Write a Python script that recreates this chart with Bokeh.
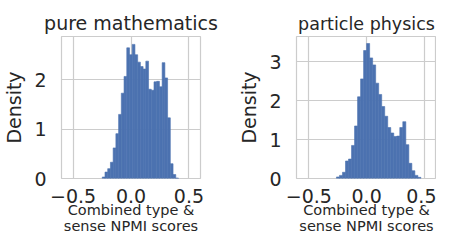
from bokeh.plotting import figure
from bokeh.layouts import row
from bokeh.embed import file_html
from bokeh.resources import INLINE
from bokeh.models import FixedTicker
import numpy as np

# ---- data ----
titles = ["pure mathematics", "particle physics"]

math_lo, math_hi = -0.248, 0.410
math_density = [0.03, 0.13, 0.20, 0.33, 0.62, 0.91, 1.30, 1.73, 2.07, 2.65,
                2.51, 2.72, 2.51, 2.36, 2.27, 2.22, 2.38, 1.81, 1.79, 1.96,
                1.97, 1.86, 2.35, 2.04, 1.23, 0.30, 0.08, 0.01]

phys_lo, phys_hi = -0.261, 0.470
phys_density = [0.04, 0.08, 0.16, 0.45, 0.50, 0.85, 1.35, 2.10, 2.56, 3.29,
                3.47, 3.10, 2.92, 2.45, 2.16, 1.85, 1.60, 1.31, 1.17, 1.08,
                1.09, 1.31, 1.46, 0.87, 0.39, 0.20, 0.08, 0.03]

x_ticks = [-0.5, 0.0, 0.5]
math_y_ticks = [0, 1, 2]
phys_y_ticks = [0, 1, 2, 3]

BAR = "#4c72b0"
GRID = "#cccccc"
TXT = "#262626"
FONT = "DejaVu Sans"


def make(title, lo, hi, dens, yticks, ymax, xr, w, borders, title_size):
    n = len(dens)
    edges = np.linspace(lo, hi, n + 1)
    bl, br, bt, bb = borders
    p = figure(width=w, height=241,
               x_range=xr, y_range=(0, ymax),
               output_backend="svg", toolbar_location=None,
               min_border_left=bl, min_border_right=br,
               min_border_top=bt, min_border_bottom=bb)
    p.quad(left=edges[:-1], right=edges[1:], bottom=0, top=dens,
           fill_color=BAR, line_color=BAR, line_width=0.6)
    p.title.text = title
    p.title.align = "center"
    p.title.text_font = FONT
    p.title.text_font_size = title_size
    p.title.text_font_style = "normal"
    p.title.text_color = TXT
    p.title.standoff = 5

    p.xaxis.ticker = FixedTicker(ticks=x_ticks)
    p.yaxis.ticker = FixedTicker(ticks=yticks)
    p.xaxis.major_label_overrides = {-0.5: "\u22120.5", 0.0: "0.0", 0.5: "0.5"}
    p.xaxis.axis_label = "Combined type &\nsense NPMI scores"
    p.yaxis.axis_label = "Density"
    for ax in (p.xaxis, p.yaxis):
        ax.axis_line_color = None
        ax.major_tick_line_color = None
        ax.minor_tick_line_color = None
        ax.major_tick_out = 0
        ax.major_tick_in = 0
        ax.major_label_text_font = FONT
        ax.major_label_text_font_size = "19px"
        ax.major_label_text_color = TXT
        ax.axis_label_text_font = FONT
        ax.axis_label_text_color = TXT
        ax.axis_label_text_font_style = "normal"
    p.xaxis.axis_label_text_font_size = "14.5px"
    p.xaxis.axis_label_text_line_height = 1.05
    p.yaxis.axis_label_text_font_size = "19px"
    p.xaxis.major_label_standoff = 10
    p.yaxis.major_label_standoff = 15
    p.xaxis.axis_label_standoff = -4
    p.yaxis.axis_label_standoff = 6

    p.xgrid.grid_line_color = GRID
    p.ygrid.grid_line_color = GRID
    p.xgrid.grid_line_width = 1.2
    p.ygrid.grid_line_width = 1.2
    p.outline_line_color = GRID
    p.outline_line_width = 1.2
    p.background_fill_color = "white"
    p.border_fill_color = "white"
    return p


p1 = make(titles[0], math_lo, math_hi, math_density, math_y_ticks, 2.88,
          (-0.6, 0.6), 235, (52, 35, 33, 63), "19px")
p2 = make(titles[1], phys_lo, phys_hi, phys_density, phys_y_ticks, 3.65,
          (-0.607, 0.605), 201, (40, 0, 36, 63), "17.5px")

layout = row(p1, p2)
open("out.html", "w").write(file_html(layout, INLINE))
